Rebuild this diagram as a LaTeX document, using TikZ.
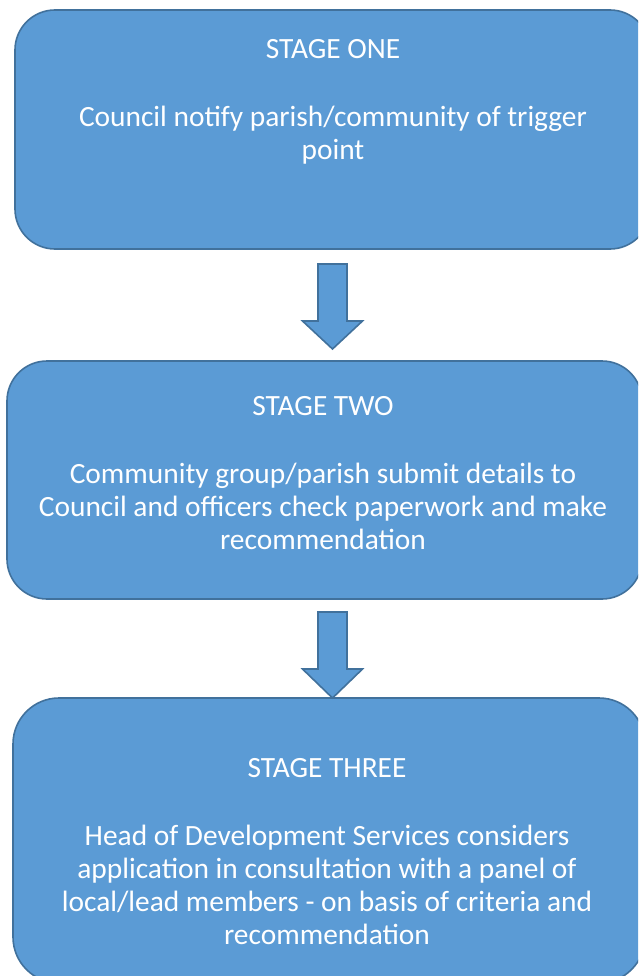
\documentclass[tikz,border=0pt]{standalone}
\usepackage{fontspec}
\setmainfont{Carlito}
\definecolor{boxfill}{HTML}{5B9BD5}
\definecolor{boxline}{HTML}{41719C}
\begin{document}
\begin{tikzpicture}[x=1pt,y=-1pt,
  stagebox/.style={draw=boxline, fill=boxfill, line width=1.6pt, rounded corners=40pt, inner sep=0pt},
  txt/.style={text=white, font=\fontsize{29.4}{33}\selectfont, align=center, inner sep=0pt, anchor=base},
  blockarrow/.style={draw=boxline, fill=boxfill, line width=1.6pt, line join=miter}]
\useasboundingbox (0,0) rectangle (638,976);
\clip (0,0) rectangle (638,976);
% boxes
\node[stagebox, minimum width=635pt, minimum height=239pt] (b1) at (332.5,129.5) {};
\node[stagebox, minimum width=635pt, minimum height=238pt] (b2) at (324.5,480) {};
\node[stagebox, minimum width=632pt, minimum height=285pt, rounded corners=46pt] (b3) at (329,840.5) {};
% texts (multi-line nodes are anchored at the baseline of their last line)
\node[txt] (t1) at (333,59) {STAGE ONE};
\node[txt] (t1b) at (333,160) {Council notify parish/community of trigger\\point};
\node[txt] (t2) at (323,415) {STAGE TWO};
\node[txt] (t2b) at (323,549) {Community group/parish submit details to\\Council and officers check paperwork and make\\recommendation};
\node[txt] (t3) at (327,777) {STAGE THREE};
\node[txt] (t3b) at (327,944) {Head of Development Services considers\\application in consultation with a panel of\\local/lead members - on basis of criteria and\\recommendation};
% arrows
\coordinate (a1s) at (332.5,264);
\coordinate (a1t) at (332.5,349);
\coordinate (a2s) at (332.5,612);
\coordinate (a2t) at (332.5,698);
\draw[blockarrow] ([xshift=-14.5pt]a1s) -- ([xshift=14.5pt]a1s) -- ([xshift=14.5pt,yshift=28pt]a1t) -- ([xshift=30pt,yshift=28pt]a1t) -- (a1t) -- ([xshift=-30pt,yshift=28pt]a1t) -- ([xshift=-14.5pt,yshift=28pt]a1t) -- cycle;
\draw[blockarrow] ([xshift=-14.5pt]a2s) -- ([xshift=14.5pt]a2s) -- ([xshift=14.5pt,yshift=29pt]a2t) -- ([xshift=30pt,yshift=29pt]a2t) -- (a2t) -- ([xshift=-30pt,yshift=29pt]a2t) -- ([xshift=-14.5pt,yshift=29pt]a2t) -- cycle;
\end{tikzpicture}
\end{document}
